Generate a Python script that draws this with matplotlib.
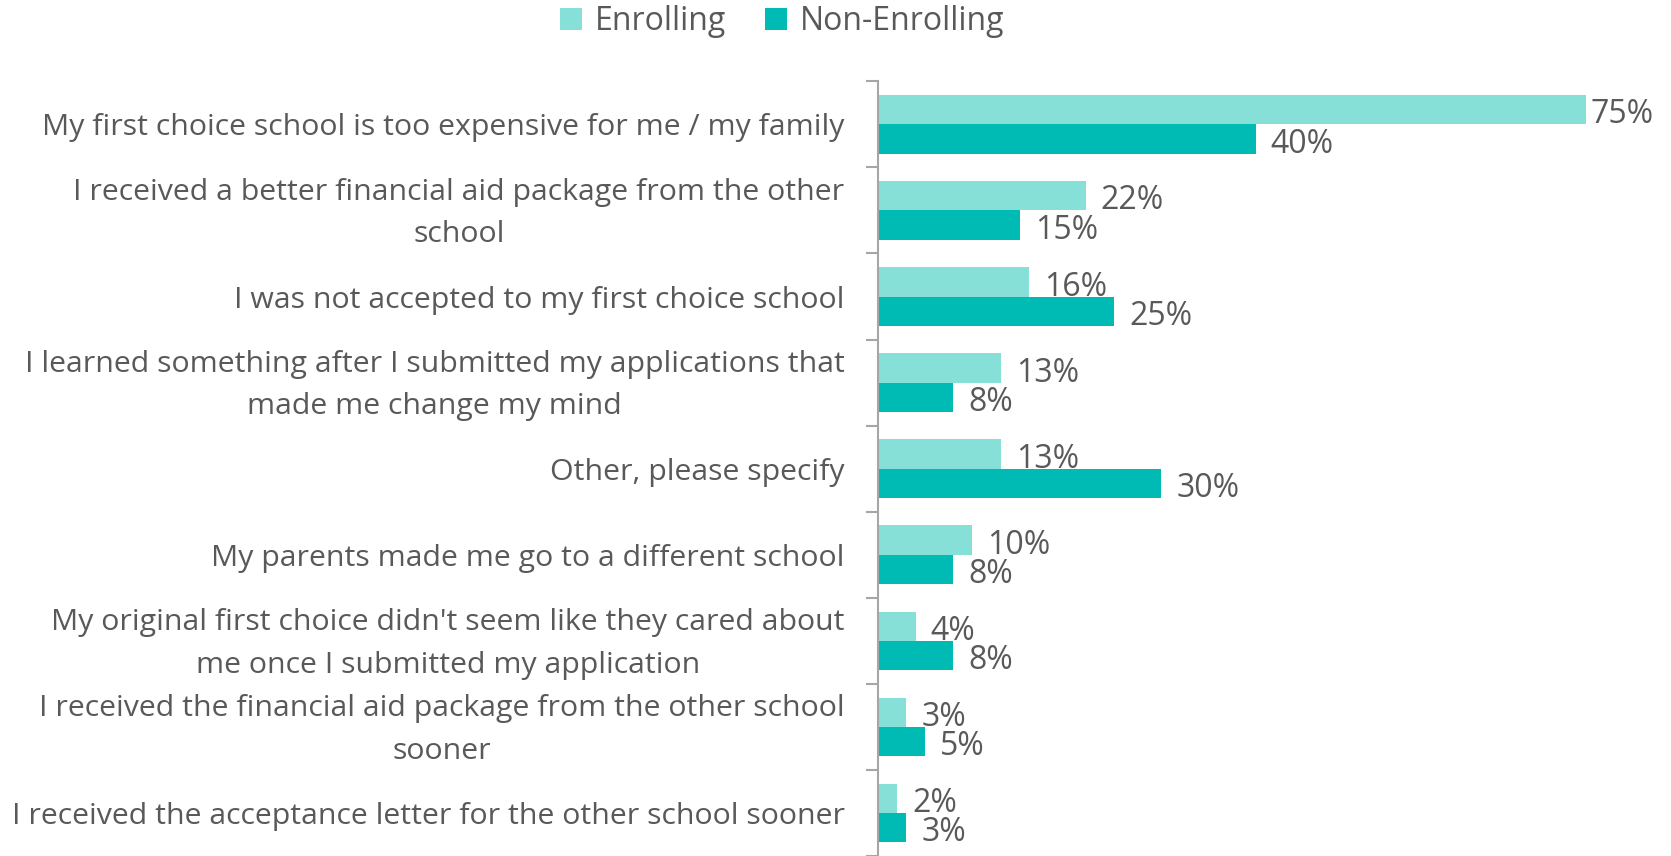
import matplotlib.pyplot as plt
import matplotlib.transforms as mtransforms
import numpy as np

categories = [
    "My first choice school is too expensive for me / my family",
    "I received a better financial aid package from the other\nschool",
    "I was not accepted to my first choice school",
    "I learned something after I submitted my applications that\nmade me change my mind",
    "Other, please specify",
    "My parents made me go to a different school",
    "My original first choice didn't seem like they cared about\nme once I submitted my application",
    "I received the financial aid package from the other school\nsooner",
    "I received the acceptance letter for the other school sooner",
]
enrolling = [75, 22, 16, 13, 13, 10, 4, 3, 2]
non_enrolling = [40, 15, 25, 8, 30, 8, 8, 5, 3]
series_names = ["Enrolling", "Non-Enrolling"]

light = "#86E0D8"
dark = "#00BBB4"
text_col = "#595959"
axis_col = "#A6A6A6"

plt.rcParams['font.family'] = ['Open Sans', 'DejaVu Sans']

fig = plt.figure(figsize=(16.71, 8.56), dpi=100)
ax = fig.add_axes([0.5254, 0.0, 0.4644, 0.905])

n = len(categories)
y = np.arange(n)
h = 0.34
b1 = ax.barh(y - h / 2, enrolling, height=h, color=light, label=series_names[0])
b2 = ax.barh(y + h / 2, non_enrolling, height=h, color=dark, label=series_names[1])

ax.set_ylim(n - 0.5, -0.5)
ax.set_xlim(0, 82.2)

value_texts = []
for bars, vals in ((b1, enrolling), (b2, non_enrolling)):
    for rect, v in zip(bars, vals):
        t = ax.text(rect.get_width() + 1.6, rect.get_y() + rect.get_height() / 2 + 0.06,
                    f"{v}%", va="center", ha="left", fontsize=23, color=text_col)
        value_texts.append(t)

ax.set_yticks(y)
labels = ax.set_yticklabels(categories, fontsize=21.8, color=text_col, ha="right",
                            multialignment="center")
ax.tick_params(axis="y", which="major", length=0, pad=24)
ax.set_yticks(np.arange(-0.5, n, 1.0), minor=True)
ax.tick_params(axis="y", which="minor", length=9, width=1.5, color=axis_col)
ax.set_xticks([])
for s in ("top", "right", "bottom"):
    ax.spines[s].set_visible(False)
ax.spines["left"].set_color(axis_col)
ax.spines["left"].set_linewidth(1.5)

# wrapped labels: looser line spacing, nudged up slightly
nudge = mtransforms.ScaledTranslation(0, 5 / 72, fig.dpi_scale_trans)
for lab in labels:
    lab.set_linespacing(1.6)
    if "\n" in lab.get_text():
        lab.set_transform(lab.get_transform() + nudge)

# keep value labels inside the plot area
fig.canvas.draw()
renderer = fig.canvas.get_renderer()
ax_right = ax.get_window_extent(renderer).x1
for t in value_texts:
    bb = t.get_window_extent(renderer)
    if bb.x1 > ax_right:
        inv = ax.transData.inverted()
        shift = inv.transform((bb.x1, 0))[0] - inv.transform((ax_right, 0))[0]
        x0, y0 = t.get_position()
        t.set_position((x0 - shift, y0))

fig.legend(handles=[b1, b2], labels=series_names, loc="center",
           bbox_to_anchor=(0.468, 0.975), ncol=2, frameon=False,
           fontsize=23, labelcolor=text_col, handlelength=0.7, handleheight=0.7,
           handletextpad=0.4, columnspacing=1.2)

fig.savefig("out.png", dpi=100)
